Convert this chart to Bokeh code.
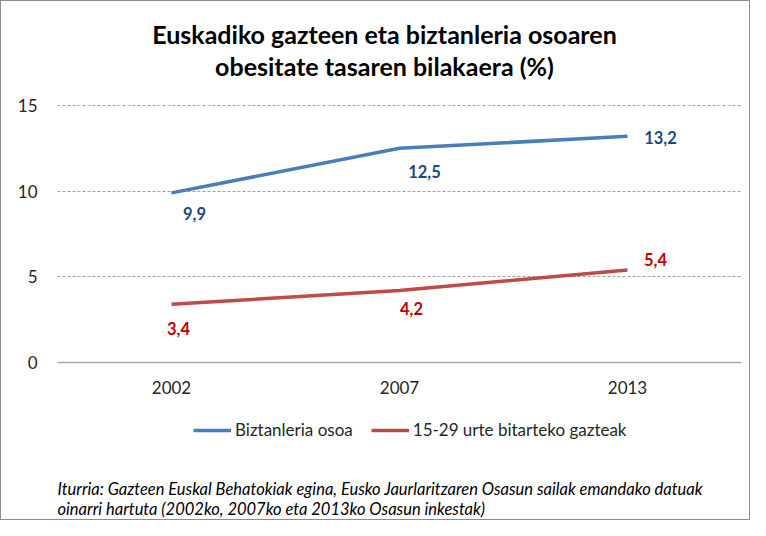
from bokeh.plotting import figure
from bokeh.models import (FactorRange, Range1d, Label, Legend, LegendItem,
                          ColumnDataSource, FixedTicker)
from bokeh.core.properties import value
from bokeh.embed import file_html
from bokeh.resources import INLINE

# ---- data ----
years = ["2002", "2007", "2013"]
total = [9.9, 12.5, 13.2]
youth = [3.4, 4.2, 5.4]
total_labels = ["9,9", "12,5", "13,2"]
youth_labels = ["3,4", "4,2", "5,4"]
y_ticks = [0, 5, 10, 15]
grid_ticks = [5, 10, 15]
title_lines = ["Euskadiko gazteen eta biztanleria osoaren",
               "obesitate tasaren bilakaera (%)"]
series_names = ["Biztanleria osoa", "15-29 urte bitarteko gazteak"]
source_lines = ["Iturria: Gazteen Euskal Behatokiak egina, Eusko Jaurlaritzaren Osasun sailak emandako datuak",
                "oinarri hartuta (2002ko, 2007ko eta 2013ko Osasun inkestak)"]

# label placement (screen px offsets)
total_dx = [23, 25, 33]
total_dy = [21, 23, 1]
youth_dx = [7, 12, 28]
youth_dy = [24, 18, -10]

FONT = "Lato"
BLUE = "#4a7ebb"
RED = "#be4b48"
BLUE_TXT = "#1f497d"
RED_TXT = "#c00000"

# frame spans the full height; value range extended so 0..15 sits in the plot band
p = figure(width=750, height=520, output_backend="svg", toolbar_location=None,
           title=None,
           x_range=FactorRange(factors=years, range_padding=0),
           y_range=Range1d(-9.28, 21.07),
           min_border_left=56, min_border_right=10,
           min_border_top=0, min_border_bottom=0)
p.outline_line_color = None
p.styles = {"border": "1px solid #8c8c8c", "box-sizing": "border-box"}

# axes
p.yaxis.ticker = FixedTicker(ticks=y_ticks)
p.yaxis.axis_line_color = None
p.yaxis.major_tick_line_color = None
p.yaxis.minor_tick_line_color = None
p.yaxis.major_label_standoff = 14
p.xaxis.fixed_location = 0
p.xaxis.axis_line_color = "#a6a6a6"
p.xaxis.axis_line_width = 1.5
p.xaxis.major_tick_line_color = None
p.xaxis.minor_tick_line_color = None
p.xaxis.major_label_standoff = 12
for ax in (p.xaxis, p.yaxis):
    ax.major_label_text_font = FONT
    ax.major_label_text_font_size = "17px"
    ax.major_label_text_color = "#262626"

p.xgrid.grid_line_color = None
p.ygrid.ticker = FixedTicker(ticks=grid_ticks)
p.ygrid.grid_line_color = "#a0a0a0"
p.ygrid.grid_line_dash = "3 2"
p.ygrid.grid_line_width = 1

r1 = p.line(years, total, line_color=BLUE, line_width=3.5)
r2 = p.line(years, youth, line_color=RED, line_width=3.5)

s1 = ColumnDataSource(dict(x=years, y=total, t=total_labels, dx=total_dx, dy=total_dy))
s2 = ColumnDataSource(dict(x=years, y=youth, t=youth_labels, dx=youth_dx, dy=youth_dy))
for src, col in ((s1, BLUE_TXT), (s2, RED_TXT)):
    p.text(x="x", y="y", text="t", x_offset="dx", y_offset="dy", source=src,
           text_font=value(FONT), text_font_size="16.5px", text_font_style="bold",
           text_color=col, text_align="center", text_baseline="middle")

legend = Legend(items=[LegendItem(label=series_names[0], renderers=[r1]),
                       LegendItem(label=series_names[1], renderers=[r2])],
                orientation="horizontal", location=(136, 81),
                glyph_width=38, glyph_height=20, label_standoff=4, spacing=18,
                padding=0, margin=0, border_line_color=None,
                background_fill_alpha=0,
                label_text_font=FONT, label_text_font_size="17px",
                label_text_color="#262626")
p.add_layout(legend, "center")

title_y = [488, 456]
for line, ty in zip(title_lines, title_y):
    p.add_layout(Label(x=327, y=ty, x_units="screen", y_units="screen",
                       text=line, text_align="center", text_baseline="middle",
                       text_font=FONT, text_font_size="25px", text_font_style="bold",
                       text_color="#000000"))

source_y = [33, 13]
for line, sy in zip(source_lines, source_y):
    p.add_layout(Label(x=0, y=sy, x_units="screen", y_units="screen",
                       text=line, text_align="left", text_baseline="middle",
                       text_font=FONT, text_font_size="16.5px", text_font_style="italic",
                       text_color="#000000"))

open("out.html", "w").write(file_html(p, INLINE))
